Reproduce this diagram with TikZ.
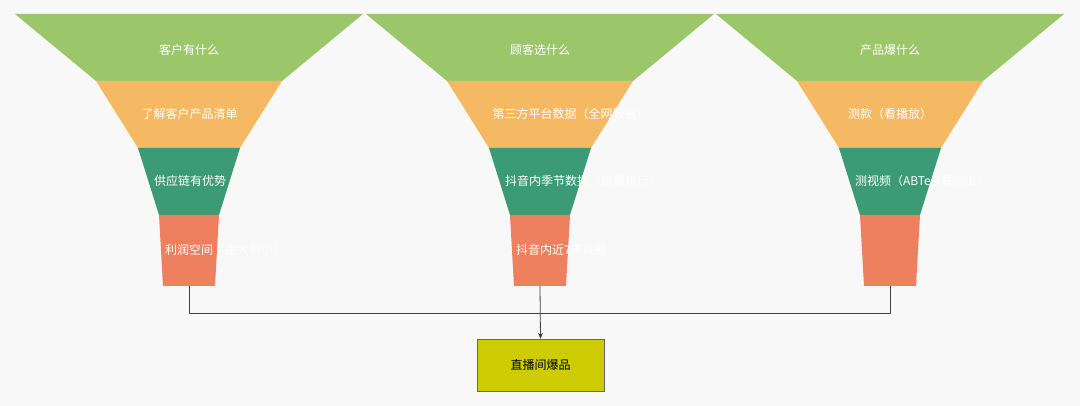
\documentclass[tikz,border=0pt]{standalone}
\usepackage{fontspec}
\setmainfont{Noto Sans CJK SC}
\usetikzlibrary{arrows.meta}
\definecolor{cg}{HTML}{9BC66A}
\definecolor{co}{HTML}{F5B963}
\definecolor{ct}{HTML}{3B9B76}
\definecolor{cr}{HTML}{EE805F}
\definecolor{cy}{HTML}{CCCC00}
\definecolor{bg}{HTML}{F8F8F8}
\tikzset{lbl/.style={text=white,font=\fontsize{12}{15}\selectfont,align=center},
conn/.style={draw=black!75,line width=0.8pt}}
\newcommand{\funnel}[5]{%
 \fill[cg] (#1-174,14) -- (#1+174,14) -- (#1+93,81) -- (#1-93,81) -- cycle;
 \fill[co] (#1-93,81) -- (#1+93,81) -- (#1+51,148) -- (#1-51,148) -- cycle;
 \fill[ct] (#1-51,148) -- (#1+51,148) -- (#1+30,215) -- (#1-30,215) -- cycle;
 \fill[cr] (#1-30,215) -- (#1+30,215) -- (#1+26,286) -- (#1-26,286) -- cycle;
 \node[lbl] at (#1,50) {#2};
 \node[lbl,text width=95pt] at (#1,114) {#3};
 \node[lbl,text width=70pt] at (#1,181) {#4};
 \node[lbl,text width=48pt] at (#1,250) {#5};
}
\begin{document}
\begin{tikzpicture}[x=1pt,y=-1pt]
\fill[bg] (0,0) rectangle (1080,406);
\useasboundingbox (0,0) rectangle (1080,406);
\funnel{189}{客户有什么}{了解客户产品清单}{供应链有优势}{利润空间（由大到小）}
\funnel{540}{顾客选什么}{第三方平台数据（全网数据）}{抖音内季节数据（销量排行）}{抖音内近7天数据}
\funnel{890}{产品爆什么}{测款（看播放）}{测视频（ABTest看点击）}{}
\coordinate (r1) at (189,286);
\coordinate (r2) at (540,286);
\coordinate (r3) at (890,286);
\node[fill=cy,draw=black!60,minimum width=127pt,minimum height=52pt,inner sep=0pt,font=\fontsize{12}{15}\selectfont] (box) at (540.5,365) {直播间爆品};
\draw[conn] (r1) -- (189,313) -| (r3);
\draw[conn,-{Stealth[length=6pt,width=5pt]}] (r2) -- (box.north);
\end{tikzpicture}
\end{document}
